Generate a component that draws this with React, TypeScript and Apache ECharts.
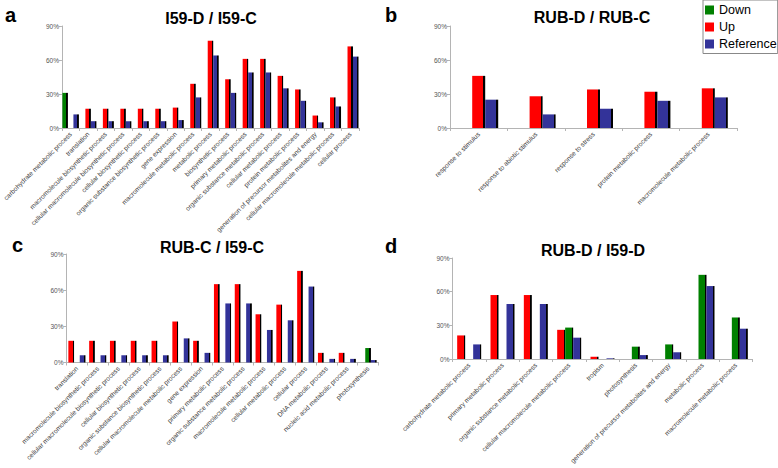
import React, { useEffect, useRef } from 'react';
import * as echarts from 'echarts';

const FONT = 'Liberation Sans, Arial, Helvetica, sans-serif';
const GREEN = '#008000';
const RED = '#ff0000';
const BLUE = '#333399';

// Panel a: I59-D / I59-C
const catsA = [
  'carbohydrate metabolic process',
  'translation',
  'macromolecule biosynthetic process',
  'cellular macromolecule biosynthetic process',
  'cellular biosynthetic process',
  'organic substance biosynthetic process',
  'gene expression',
  'macromolecule metabolic process',
  'metabolic process',
  'biosynthetic process',
  'primary metabolic process',
  'organic substance metabolic process',
  'cellular metabolic process',
  'protein metabolic process',
  'generation of precursor metabolites and energy',
  'cellular macromolecule metabolic process',
  'cellular process',
];
const downA = [31, null, null, null, null, null, null, null, null, null, null, null, null, null, null, null, null];
const upA = [null, 17, 17, 17, 17, 17, 18, 39, 77, 43, 61, 61, 46, 34, 11, 27, 72];
const refA = [12, 6, 6, 6, 6, 6, 7, 27, 64, 31, 49, 49, 35, 24, 5, 19, 63];

// Panel b: RUB-D / RUB-C
const catsB = [
  'response to stimulus',
  'response to abiotic stimulus',
  'response to stress',
  'protein metabolic process',
  'macromolecule metabolic process',
];
const downB = [null, null, null, null, null];
const upB = [46, 28, 34, 32, 35];
const refB = [25, 12, 17, 24, 27];

// Panel c: RUB-C / I59-C
const catsC = [
  'translation',
  'macromolecule biosynthetic process',
  'cellular macromolecule biosynthetic process',
  'cellular biosynthetic process',
  'organic substance biosynthetic process',
  'cellular macromolecule metabolic process',
  'gene expression',
  'primary metabolic process',
  'organic substance metabolic process',
  'macromolecule metabolic process',
  'cellular metabolic process',
  'cellular process',
  'DNA metabolic process',
  'nucleic acid metabolic process',
  'photosynthesis',
];
const upC = [18, 18, 18, 18, 18, 34, 18, 65, 65, 40, 48, 76, 8, 8, null];
const downC = [null, null, null, null, null, null, null, null, null, null, null, null, null, null, 12];
const refC = [6, 6, 6, 6, 6, 20, 8, 49, 49, 27, 35, 63, 3, 3, 2];

// Panel d: RUB-D / I59-D
const catsD = [
  'carbohydrate metabolic process',
  'primary metabolic process',
  'organic substance metabolic process',
  'cellular macromolecule metabolic process',
  'tropism',
  'photosynthesis',
  'generation of precursor metabolites and energy',
  'metabolic process',
  'macromolecule metabolic process',
];
const upD = [21, 57, 57, 26, 2, null, null, null, null];
const downD = [null, null, null, 28, null, 11, 13, 75, 37];
const refD = [13, 49, 49, 19, 0.6, 3.5, 6, 65, 27];

const yTicks = [0, 30, 60, 90];

const titles = [
  { text: 'I59-D / I59-C', x: 211, y: 18 },
  { text: 'RUB-D / RUB-C', x: 592, y: 17 },
  { text: 'RUB-C / I59-C', x: 212, y: 247 },
  { text: 'RUB-D / I59-D', x: 593, y: 250 },
];
const letters = [
  { text: 'a', x: 5, y: 15 },
  { text: 'b', x: 385, y: 15 },
  { text: 'c', x: 12, y: 245 },
  { text: 'd', x: 385, y: 246 },
];

const grids = [
  { left: 61.5, top: 26, width: 297.5, height: 102 },
  { left: 450, top: 26, width: 287, height: 102 },
  { left: 66.5, top: 254, width: 312, height: 108.5 },
  { left: 452.5, top: 258, width: 300, height: 101 },
];

const AXIS_COLOR = '#b4b4b4';

function xAxisOf(i: number, cats: string[]) {
  return {
    type: 'category',
    gridIndex: i,
    data: cats,
    axisLine: { lineStyle: { color: AXIS_COLOR, width: 1 } },
    axisTick: { show: true, length: 3, lineStyle: { color: AXIS_COLOR } },
    axisLabel: {
      interval: 0,
      rotate: 45,
      fontSize: 6.6,
      color: '#3a3a3a',
      margin: 5,
      fontFamily: FONT,
    },
  };
}

function yAxisOf(i: number) {
  return {
    type: 'value',
    gridIndex: i,
    min: yTicks[0],
    max: yTicks[yTicks.length - 1],
    interval: 30,
    axisLine: { show: true, lineStyle: { color: AXIS_COLOR, width: 1 } },
    axisTick: { show: true, length: 3, lineStyle: { color: AXIS_COLOR } },
    splitLine: { show: false },
    axisLabel: {
      formatter: '{value}%',
      fontSize: 6.5,
      color: '#555',
      margin: 3,
      fontFamily: FONT,
    },
  };
}

// 3D-style bar: coloured face with a black right side
function face(color: string, edge: number) {
  return new echarts.graphic.LinearGradient(0, 0, 1, 0, [
    { offset: 0, color },
    { offset: edge, color },
    { offset: edge, color: '#000' },
    { offset: 1, color: '#000' },
  ]);
}

function barSeries(name: string, color: string, data: (number | null)[], i: number, w: number, edge: number) {
  return {
    name,
    type: 'bar',
    xAxisIndex: i,
    yAxisIndex: i,
    data: data.map((v) => (v == null ? '-' : v)),
    barWidth: w,
    barGap: '0%',
    itemStyle: { color: face(color, edge) },
  };
}

const option = {
  animation: false,
  backgroundColor: '#fff',
  textStyle: { fontFamily: FONT },
  grid: grids,
  xAxis: [xAxisOf(0, catsA), xAxisOf(1, catsB), xAxisOf(2, catsC), xAxisOf(3, catsD)],
  yAxis: [yAxisOf(0), yAxisOf(1), yAxisOf(2), yAxisOf(3)],
  legend: {
    data: [
      { name: 'Down', itemStyle: { color: GREEN } },
      { name: 'Up', itemStyle: { color: RED } },
      { name: 'Reference', itemStyle: { color: BLUE } },
    ],
    orient: 'vertical',
    left: 703,
    top: 0,
    icon: 'rect',
    itemWidth: 9,
    itemHeight: 9,
    itemGap: 4,
    padding: [3.5, 1, 3, 2],
    borderColor: '#888',
    borderWidth: 1,
    selectedMode: false,
    textStyle: { fontSize: 12.5, color: '#000', fontFamily: FONT },
  },
  graphic: [
    ...titles.map((t) => ({
      type: 'text',
      x: t.x,
      y: t.y,
      style: {
        text: t.text,
        font: `bold 16px ${FONT}`,
        fill: '#000',
        textAlign: 'center',
        textVerticalAlign: 'middle',
      },
    })),
    ...letters.map((t) => ({
      type: 'text',
      x: t.x,
      y: t.y,
      style: {
        text: t.text,
        font: `bold 20px ${FONT}`,
        fill: '#000',
        textAlign: 'left',
        textVerticalAlign: 'middle',
      },
    })),
  ],
  series: [
    barSeries('Down', GREEN, downA, 0, 5.5, 0.72),
    barSeries('Up', RED, upA, 0, 5.5, 0.72),
    barSeries('Reference', BLUE, refA, 0, 5.5, 0.72),
    barSeries('Down', GREEN, downB, 1, 13, 0.85),
    barSeries('Up', RED, upB, 1, 13, 0.85),
    barSeries('Reference', BLUE, refB, 1, 13, 0.85),
    barSeries('Up', RED, upC, 2, 5.7, 0.73),
    barSeries('Down', GREEN, downC, 2, 5.7, 0.73),
    barSeries('Reference', BLUE, refC, 2, 5.7, 0.73),
    barSeries('Up', RED, upD, 3, 8, 0.8),
    barSeries('Down', GREEN, downD, 3, 8, 0.8),
    barSeries('Reference', BLUE, refD, 3, 8, 0.8),
  ],
};

export default function App() {
  const ref = useRef<HTMLDivElement>(null);
  useEffect(() => {
    if (!ref.current) return;
    const chart = echarts.init(ref.current, null, { renderer: 'svg' });
    chart.setOption(option as any);
    return () => chart.dispose();
  }, []);
  return (
    <div
      ref={ref}
      style={{ position: 'absolute', left: 0, top: 0, width: 778, height: 468, background: '#fff' }}
    />
  );
}
